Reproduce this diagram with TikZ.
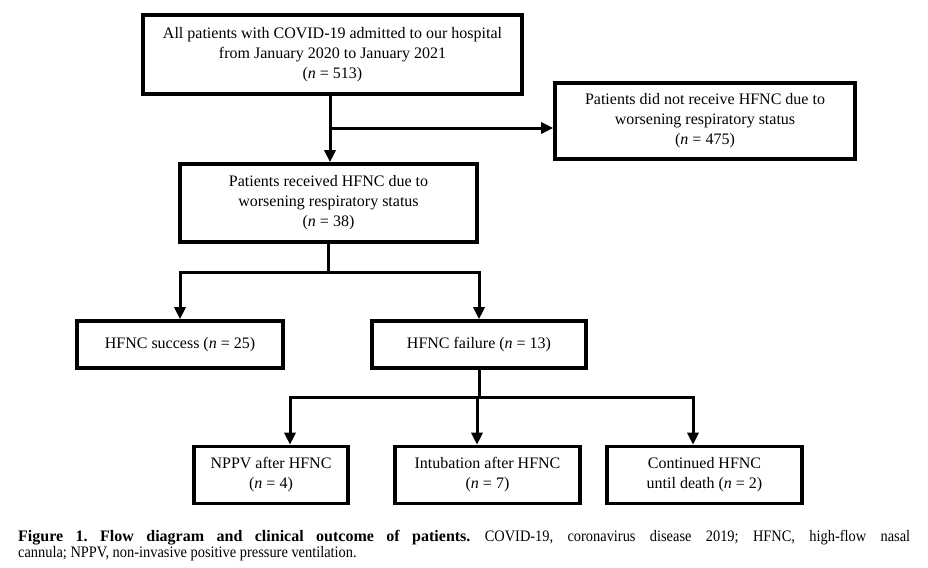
\documentclass[tikz,border=0pt]{standalone}
\usepackage{fontspec}
\setmainfont{Liberation Serif}
\newfontfamily\capfont[FakeStretch=0.9, BoldFeatures={FakeStretch=1.0}]{Liberation Serif}
\usetikzlibrary{arrows.meta}
\tikzset{
  box/.style={draw=black, line width=3.6pt, fill=white, align=center, inner sep=0pt,
    font=\fontsize{16}{20}\selectfont},
  link/.style={draw=black, line width=3pt},
  arr/.style={link, -{Triangle[length=12pt,width=11pt]}}
}
\begin{document}
\begin{tikzpicture}[x=1pt,y=-1pt]
\useasboundingbox (0,0) rectangle (928,567);
\node[box, minimum width=379pt, minimum height=79pt] (top) at (332.5,54.5)
  {All patients with COVID-19 admitted to our hospital\\from January 2020 to January 2021\\(\textit{n} = 513)};
\node[box, minimum width=300pt, minimum height=76pt] (right) at (705,121)
  {Patients did not receive HFNC due to\\worsening respiratory status\\(\textit{n} = 475)};
\node[box, minimum width=297pt, minimum height=78pt] (mid) at (328.5,203)
  {Patients received HFNC due to\\worsening respiratory status\\(\textit{n} = 38)};
\node[box, minimum width=206pt, minimum height=47pt] (succ) at (180,344.5)
  {HFNC success (\textit{n} = 25)};
\node[box, minimum width=214pt, minimum height=47pt] (fail) at (479,344.5)
  {HFNC failure (\textit{n} = 13)};
\node[box, minimum width=154pt, minimum height=57pt] (nppv) at (271,475)
  {NPPV after HFNC\\(\textit{n} = 4)};
\node[box, minimum width=185pt, minimum height=57pt] (intub) at (487.5,475)
  {Intubation after HFNC\\(\textit{n} = 7)};
\node[box, minimum width=195pt, minimum height=57pt] (cont) at (704.5,475)
  {Continued HFNC\\until death (\textit{n} = 2)};
% connectors
\coordinate (j1) at (330,128);
\draw[arr] (top.south -| j1) -- (mid.north -| j1);
\draw[arr] (j1) -- (right.west |- j1);
\draw[link] (mid.south) -- ++(0,29) coordinate (j2);
\draw[arr] (j2) -| (succ.north);
\draw[arr] (j2) -| (fail.north);
\draw[link] (fail.south) -- ++(0,28) coordinate (j3);
\draw[arr] (j3) -| ([xshift=19pt]nppv.north);
\draw[arr] (j3) -| ([xshift=-10.5pt]intub.north);
\draw[arr] (j3) -| ([xshift=-11.5pt]cont.north);
% caption
\node[anchor=north west, inner sep=0pt, text width=892pt, align=justify,
  font=\capfont\fontsize{16}{16}\selectfont\frenchspacing] (cap) at (18,530)
  {{\bfseries\spaceskip=0.3em plus 0.08em Figure 1. Flow diagram and clinical outcome of patients.} COVID-19, coronavirus disease 2019; HFNC, high-flow nasal\linebreak cannula; NPPV, non-invasive positive pressure ventilation.};
\end{tikzpicture}
\end{document}
